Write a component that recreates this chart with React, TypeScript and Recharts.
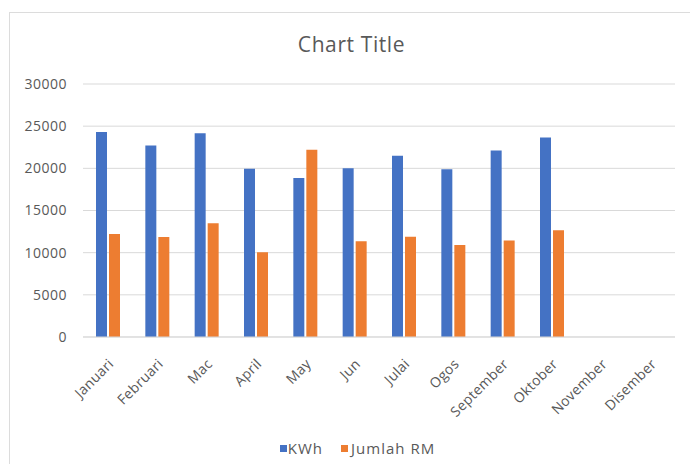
import React from "react";
import { BarChart, Bar, XAxis, YAxis, CartesianGrid, Legend } from "recharts";

const months = ["Januari", "Februari", "Mac", "April", "May", "Jun", "Julai", "Ogos", "September", "Oktober", "November", "Disember"];
const kwh: (number | null)[] = [24300, 22700, 24150, 19950, 18850, 20000, 21500, 19900, 22100, 23650, null, null];
const jumlahRM: (number | null)[] = [12200, 11850, 13500, 10050, 22200, 11350, 11900, 10900, 11450, 12650, null, null];
const yTicks = [0, 5000, 10000, 15000, 20000, 25000, 30000];

const data = months.map((m, i) => ({ month: m, kwh: kwh[i], rm: jumlahRM[i] }));

const FONT = "'Open Sans', 'Liberation Sans', sans-serif";
const TEXT = "#595959";
const BLUE = "#4472C4";
const ORANGE = "#ED7D31";

const XTick = (props: any) => {
  const { x, y, payload } = props;
  return (
    <text
      transform={`translate(${x + 3},${y + 24}) rotate(-45)`}
      textAnchor="end"
      dominantBaseline="central"
      fill={TEXT}
      fontSize={14}
      letterSpacing={0.3}
      fontFamily={FONT}
    >
      {payload.value}
    </text>
  );
};

const LegendContent = () => (
  <div
    style={{
      display: "flex",
      justifyContent: "center",
      alignItems: "center",
      height: 20,
      paddingLeft: 17,
      fontFamily: FONT,
      fontSize: 15,
      letterSpacing: 1,
      color: TEXT,
    }}
  >
    <span style={{ display: "inline-block", width: 7, height: 7, background: BLUE, marginRight: 1 }} />
    <span>KWh</span>
    <span style={{ display: "inline-block", width: 7, height: 7, background: ORANGE, marginLeft: 18, marginRight: 3 }} />
    <span>Jumlah RM</span>
  </div>
);

export default function App() {
  return (
    <div style={{ position: "relative", margin: -8, width: 698, height: 472, overflow: "hidden", background: "#fff" }}>
      <div
        style={{
          position: "absolute",
          left: 9,
          top: 12,
          width: 684,
          height: 470,
          border: "1px solid #dcdcdc",
          boxSizing: "border-box",
        }}
      />
      <div
        style={{
          position: "absolute",
          left: 0,
          width: 703,
          top: 29.5,
          textAlign: "center",
          fontFamily: FONT,
          fontSize: 21,
          letterSpacing: 0.6,
          color: TEXT,
        }}
      >
        Chart Title
      </div>
      <div style={{ position: "absolute", left: 0, top: 0 }}>
        <BarChart
          width={698}
          height={472}
          data={data}
          margin={{ top: 84, right: 23, bottom: 14, left: 0 }}
          barSize={11}
          barGap={2}
        >
          <CartesianGrid vertical={false} stroke="#d9d9d9" />
          <XAxis
            dataKey="month"
            height={101}
            tickLine={false}
            tickSize={0}
            tickMargin={0}
            axisLine={{ stroke: "#d9d9d9" }}
            interval={0}
            tick={<XTick />}
          />
          <YAxis
            width={83}
            domain={[0, 30000]}
            ticks={yTicks}
            axisLine={false}
            tickLine={false}
            tickSize={0}
            tickMargin={16}
            tick={{ fill: TEXT, fontSize: 14, fontFamily: FONT, letterSpacing: 0.5 }}
          />
          <Legend
            verticalAlign="bottom"
            content={<LegendContent />}
            wrapperStyle={{ left: 0, width: 698, bottom: 14 }}
          />
          <Bar dataKey="kwh" name="KWh" fill={BLUE} isAnimationActive={false} />
          <Bar dataKey="rm" name="Jumlah RM" fill={ORANGE} isAnimationActive={false} />
        </BarChart>
      </div>
    </div>
  );
}
